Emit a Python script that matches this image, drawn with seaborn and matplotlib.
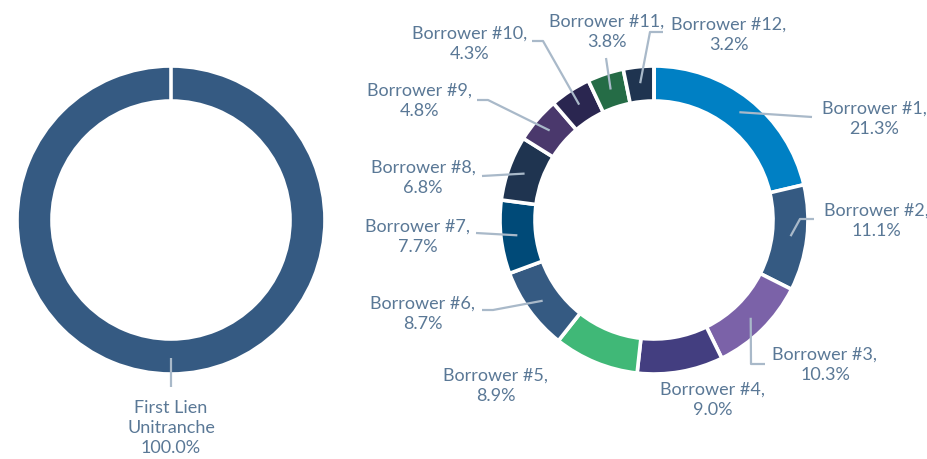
import numpy as np
import matplotlib
matplotlib.use("Agg")
import matplotlib.pyplot as plt
import seaborn as sns

# === Data ===
lien_labels = ["First Lien\nUnitranche"]
lien_values = [100.0]

borrowers = [f"Borrower #{i}" for i in range(1, 13)]
borrower_values = [21.3, 11.1, 10.3, 9.0, 8.9, 8.7, 7.7, 6.8, 4.8, 4.3, 3.8, 3.2]
borrower_colors = ["#0080c4", "#355a82", "#7b62a8", "#433e80", "#40b877", "#355a82",
                   "#004a78", "#1f3450", "#4a386c", "#2a2650", "#256c46", "#1f3450"]

# === Layout (pixel coords, y measured from top) ===
W, H = 928, 460
R, RING = 154, 35
left_c = (171, 221)
right_c = (654, 221)

# label centre and leader polyline (after the start point on the ring)
borrower_text_xy = [(874, 119), (876, 221), (825, 365), (713, 400), (496, 386), (423, 314),
                    (418, 237), (423, 178), (420, 101), (470, 44), (607, 32), (729, 35)]
borrower_leaders = [
    [(812, 118)],
    [(800, 220), (814, 220)],
    [(751, 365), (765, 365)],
    None,
    None,
    [(493, 311), (482, 311)],
    [(476, 234)],
    [(482, 177)],
    [(488, 101), (477, 101)],
    [(543, 42), (532, 42)],
    [(606, 59)],
    [(650, 33), (663, 33)],
]
lien_text_xy = [(171, 428)]
lien_leaders = [[(171, 388)]]

TEXT_COLOR = "#5a7896"
LINE_COLOR = "#a9b9c9"

sns.set_style("white")
plt.rcParams["font.family"] = ["Lato", "DejaVu Sans"]


def fy(y):
    return H - y


def draw_donut(ax, values, colors, center, texts, text_xy, leaders):
    cx, cy = center
    wedges, _ = ax.pie(values, colors=colors, startangle=90, counterclock=False,
                       radius=R, center=(cx, fy(cy)),
                       wedgeprops=dict(width=RING, edgecolor="white", linewidth=2.6))
    # separator at the start angle (a full ring draws no radial edge)
    a0 = np.deg2rad(wedges[0].theta2 if len(wedges) == 1 else wedges[0].theta2)
    ax.plot([cx + (R - RING - 2) * np.cos(a0), cx + (R + 2) * np.cos(a0)],
            [fy(cy) + (R - RING - 2) * np.sin(a0), fy(cy) + (R + 2) * np.sin(a0)],
            color="white", lw=2.6, zorder=2.5)
    r_mid = R - RING / 2 + 1
    for w, txt, val, (tx, ty), path in zip(wedges, texts, values, text_xy, leaders):
        if path is not None:
            ang = np.deg2rad((w.theta1 + w.theta2) / 2)
            pts = [(cx + r_mid * np.cos(ang), fy(cy) + r_mid * np.sin(ang))]
            pts += [(px, fy(py)) for px, py in path]
            xs, ys = zip(*pts)
            ax.plot(xs, ys, color=LINE_COLOR, lw=1.6, solid_capstyle="butt", zorder=3)
        ax.text(tx, fy(ty), f"{txt}\n{val:.1f}%", ha="center", va="center",
                fontsize=13, color=TEXT_COLOR, linespacing=1.3)


fig = plt.figure(figsize=(W / 100, H / 100), dpi=100)
ax = fig.add_axes([0, 0, 1, 1])

draw_donut(ax, lien_values, ["#355a82"], left_c,
           lien_labels, lien_text_xy, lien_leaders)
draw_donut(ax, borrower_values, borrower_colors, right_c,
           [b + "," for b in borrowers], borrower_text_xy, borrower_leaders)

ax.set_xlim(0, W)
ax.set_ylim(0, H)
ax.set_aspect("equal")
ax.axis("off")

fig.savefig("out.png", dpi=100)
